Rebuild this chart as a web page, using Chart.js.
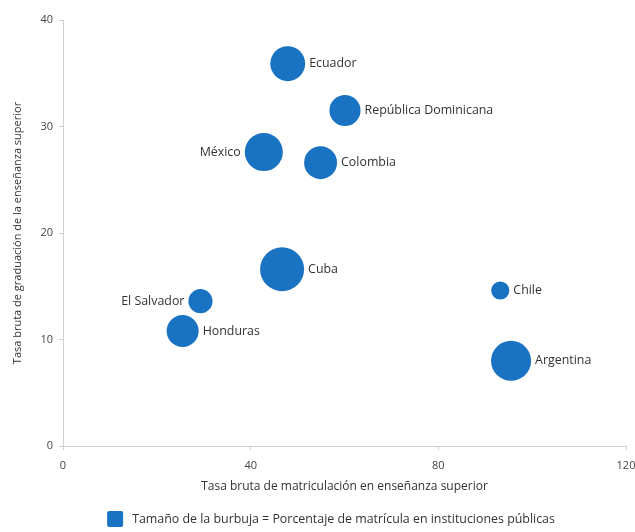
<!DOCTYPE html>
<html>
<head>
<meta charset="utf-8">
<script src="https://cdn.jsdelivr.net/npm/chart.js@4"></script>
<style>
  body { margin: 0; background: #fff; }
  #wrap { width: 635px; height: 532px; }
</style>
</head>
<body>
<div id="wrap"><canvas id="grafico"></canvas></div>
<script>
// datos
const paises = ["Ecuador", "República Dominicana", "México", "Colombia", "Cuba", "El Salvador", "Honduras", "Chile", "Argentina"]
const matriculacion = [47.9, 60.1, 42.8, 54.9, 46.7, 29.3, 25.5, 93.2, 95.5]
const graduacion = [35.9, 31.5, 27.6, 26.6, 16.6, 13.6, 10.8, 14.6, 8.0]
const publica = [63, 50, 75, 56, 100, 30, 53, 17, 83]   // % matrícula en instituciones públicas
const etiquetaIzq = ["México", "El Salvador"]

const xTicks = [0, 40, 80, 120]
const yTicks = [0, 10, 20, 30, 40]

const azul = "#1a73c2"
const leyendaTexto = "Tamaño de la burbuja = Porcentaje de matrícula en instituciones públicas"

// radio proporcional a la raíz del porcentaje (área ~ porcentaje)
function radio(p) {
    return 2.2 * Math.sqrt(p)
}

const puntos = paises.map((p, i) => {
    return { x: matriculacion[i], y: graduacion[i], r: radio(publica[i]) }
})

const etiquetas = {
    id: "etiquetas",
    afterDatasetsDraw(chart) {
        const ctx = chart.ctx
        const meta = chart.getDatasetMeta(0)
        ctx.save()
        ctx.font = "12.4px 'Open Sans'"
        ctx.fillStyle = "#333"
        ctx.textBaseline = "middle"
        meta.data.forEach((el, i) => {
            const r = el.options.radius
            if (etiquetaIzq.includes(paises[i])) {
                ctx.textAlign = "right"
                ctx.fillText(paises[i], el.x - r - 4, el.y)
            } else {
                ctx.textAlign = "left"
                ctx.fillText(paises[i], el.x + r + 4, el.y)
            }
        })
        ctx.restore()
    }
}

const leyenda = {
    id: "leyenda",
    afterDraw(chart) {
        const ctx = chart.ctx
        ctx.save()
        ctx.font = "12.4px 'Open Sans'"
        const w = ctx.measureText(leyendaTexto).width
        const caja = 16
        const total = caja + 9 + w
        const x0 = 331 - total / 2
        const y0 = 519
        ctx.fillStyle = azul
        ctx.beginPath()
        ctx.roundRect(x0, y0 - caja / 2, caja, caja, 2)
        ctx.fill()
        ctx.fillStyle = "#333"
        ctx.textBaseline = "middle"
        ctx.textAlign = "left"
        ctx.fillText(leyendaTexto, x0 + caja + 9, y0)
        ctx.restore()
    }
}

const ejeColor = "#cfcfcf"

const chart = new Chart(document.querySelector("#grafico"), {
    type: "bubble",
    data: {
        datasets: [{
            label: "Países",
            data: puntos,
            backgroundColor: azul,
            borderColor: azul,
            borderWidth: 0
        }]
    },
    options: {
        responsive: true,
        maintainAspectRatio: false,
        animation: false,
        layout: { autoPadding: false, padding: { top: 20, right: 9, bottom: 38, left: 0 } },
        plugins: {
            legend: { display: false },
            tooltip: { enabled: false }
        },
        scales: {
            x: {
                type: "linear",
                min: 0,
                max: 120,
                afterBuildTicks: (scale) => { scale.ticks = xTicks.map(v => ({ value: v })) },
                afterFit: (scale) => {
                    scale.height = 48
                    scale.paddingLeft = 0
                    scale.paddingRight = 0
                },
                grid: { drawOnChartArea: false, drawTicks: true, tickLength: 4, color: ejeColor },
                border: { color: ejeColor },
                ticks: { color: "#444", font: { family: "'Open Sans'", size: 11 }, padding: 9, maxRotation: 0 },
                title: {
                    display: true,
                    text: "Tasa bruta de matriculación en enseñanza superior",
                    color: "#333",
                    font: { family: "'Open Sans'", size: 12 },
                    padding: { top: 4, bottom: 0 }
                }
            },
            y: {
                type: "linear",
                min: 0,
                max: 40,
                afterBuildTicks: (scale) => { scale.ticks = yTicks.map(v => ({ value: v })) },
                afterFit: (scale) => {
                    scale.width = 63
                    scale.paddingTop = 0
                    scale.paddingBottom = 0
                },
                grid: { drawOnChartArea: false, drawTicks: true, tickLength: 4, color: ejeColor },
                border: { color: ejeColor },
                ticks: { color: "#444", font: { family: "'Open Sans'", size: 11 }, padding: 6 },
                title: {
                    display: true,
                    text: "Tasa bruta de graduación de la enseñanza superior",
                    color: "#333",
                    font: { family: "'Open Sans'", size: 11 },
                    padding: { top: 11, bottom: 0 }
                }
            }
        }
    },
    plugins: [etiquetas, leyenda]
})
</script>
</body>
</html>
